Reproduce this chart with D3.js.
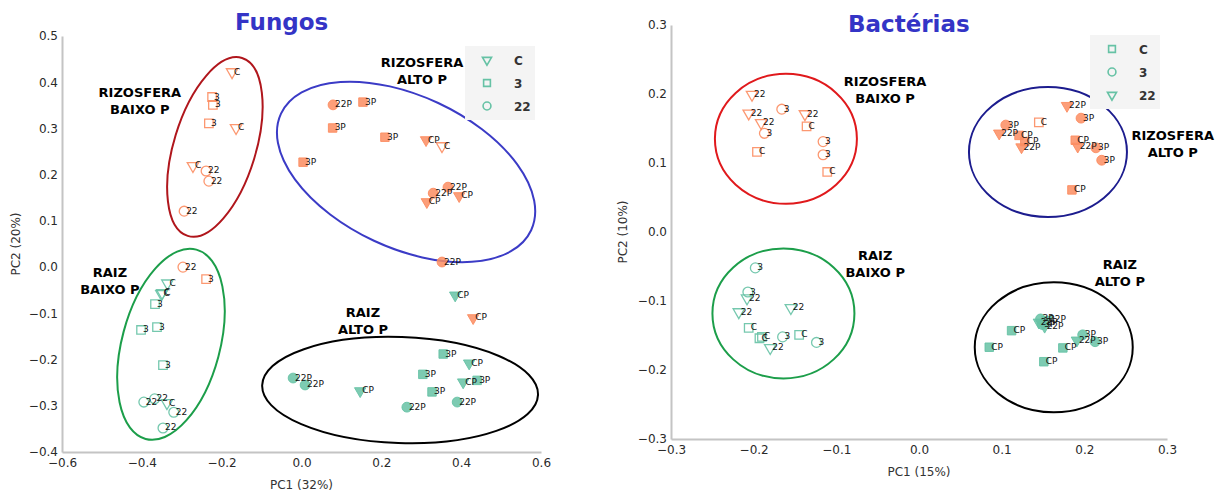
<!DOCTYPE html>
<html>
<head>
<meta charset="utf-8">
<script src="https://cdn.jsdelivr.net/npm/d3@7"></script>
<style>
  body { margin: 0; background: #fff; }
  svg { display: block; font-family: "DejaVu Sans", sans-serif; }
</style>
</head>
<body>
<svg id="chart" width="1223" height="496"></svg>
<script>
// ---- data: [PC1, PC2, label] ----
const fungosRizosfera = [
  [-0.174, 0.422, 'C'], [-0.224, 0.368, '3'], [-0.222, 0.351, '3'], [-0.232, 0.311, '3'],
  [-0.164, 0.301, 'C'], [-0.272, 0.219, 'C'], [-0.239, 0.208, '22'], [-0.232, 0.186, '22'],
  [-0.294, 0.121, '22'], [-0.297, 0.000, '22'], [-0.239, -0.026, '3'],
  [0.079, 0.351, '22P'], [0.154, 0.357, '3P'], [0.078, 0.301, '3P'], [0.209, 0.281, '3P'],
  [0.004, 0.227, '3P'], [0.312, 0.275, 'CP'], [0.352, 0.262, 'C'], [0.367, 0.173, '22P'],
  [0.330, 0.160, '22P'], [0.314, 0.141, 'CP'], [0.395, 0.154, 'CP'], [0.352, 0.011, '22P'],
  [0.430, -0.110, 'CP']
];
const fungosRaiz = [
  [-0.336, -0.035, 'C'], [-0.349, -0.056, 'C'], [-0.351, -0.058, 'C'],
  [-0.367, -0.080, '3'], [-0.402, -0.136, '3'], [-0.362, -0.130, '3'], [-0.347, -0.212, '3'],
  [-0.395, -0.292, '22'], [-0.368, -0.285, '22'], [-0.337, -0.294, 'C'], [-0.320, -0.314, '22'],
  [-0.347, -0.348, '22'],
  [0.385, -0.061, 'CP'], [0.355, -0.188, '3P'], [0.420, -0.208, 'CP'], [0.304, -0.232, '3P'],
  [0.405, -0.249, 'CP'], [0.440, -0.245, '3P'], [0.327, -0.270, '3P'], [0.390, -0.292, '22P'],
  [0.264, -0.303, '22P'], [-0.021, -0.240, '22P'], [0.009, -0.255, '22P'], [0.147, -0.268, 'CP']
];
const bacteriasRizosfera = [
  [-0.202, 0.199, '22'], [-0.206, 0.172, '22'], [-0.191, 0.158, '22'], [-0.187, 0.143, '3'],
  [-0.166, 0.178, '3'], [-0.138, 0.171, '22'], [-0.136, 0.153, 'C'], [-0.196, 0.116, 'C'],
  [-0.116, 0.131, '3'], [-0.116, 0.112, '3'], [-0.111, 0.087, 'C'],
  [0.179, 0.183, '22P'], [0.196, 0.165, '3P'], [0.145, 0.159, 'C'], [0.105, 0.155, '3P'],
  [0.097, 0.143, '22P'], [0.121, 0.140, 'CP'], [0.128, 0.131, 'CP'], [0.124, 0.123, '22P'],
  [0.189, 0.133, 'CP'], [0.192, 0.124, '22P'], [0.214, 0.122, '3P'], [0.221, 0.104, '3P'],
  [0.185, 0.061, 'CP']
];
const bacteriasRaiz = [
  [-0.198, -0.052, '3'], [-0.207, -0.087, '3'], [-0.208, -0.096, '22'], [-0.218, -0.116, '22'],
  [-0.155, -0.110, '22'], [-0.206, -0.139, 'C'], [-0.193, -0.154, 'C'], [-0.190, -0.152, 'C'],
  [-0.165, -0.152, '3'], [-0.145, -0.149, 'C'], [-0.180, -0.168, '22'], [-0.124, -0.160, '3'],
  [0.112, -0.143, 'CP'], [0.085, -0.167, 'CP'], [0.147, -0.126, '3P'], [0.155, -0.127, '22P'],
  [0.149, -0.134, '3P'], [0.152, -0.137, '22P'], [0.145, -0.131, '22P'], [0.174, -0.168, 'CP'],
  [0.191, -0.157, '22P'], [0.198, -0.149, '3P'], [0.213, -0.159, '3P'], [0.151, -0.188, 'CP']
];

const fungosXTicks = [-0.6, -0.4, -0.2, 0.0, 0.2, 0.4, 0.6];
const fungosYTicks = [-0.4, -0.3, -0.2, -0.1, 0.0, 0.1, 0.2, 0.3, 0.4, 0.5];
const bacteriasXTicks = [-0.3, -0.2, -0.1, 0.0, 0.1, 0.2, 0.3];
const bacteriasYTicks = [-0.3, -0.2, -0.1, 0.0, 0.1, 0.2, 0.3];

const legendLabels = ['C', '3', '22'];
const fungosShapes = { 'C': 'tri', '3': 'sq', '22': 'circ' };
const bacteriasShapes = { 'C': 'sq', '3': 'circ', '22': 'tri' };

// group annotations: ellipse centre in data units, radii in px
const fungosEllipses = [
  { cx: -0.217, cy: 0.260, rx: 41, ry: 93, rot: 17, color: '#b0161c' },
  { cx: 0.262, cy: 0.206, rx: 138, ry: 76, rot: 25, color: '#3b3bc6' },
  { cx: -0.327, cy: -0.167, rx: 49, ry: 98, rot: 15, color: '#1c9e4a' },
  { cx: 0.247, cy: -0.266, rx: 138, ry: 53, rot: 2, color: '#000' }
];
const bacteriasEllipses = [
  { cx: -0.161, cy: 0.135, rx: 71, ry: 65, rot: 0, color: '#e0191c' },
  { cx: 0.156, cy: 0.116, rx: 79, ry: 65, rot: 0, color: '#1c1c8e' },
  { cx: -0.164, cy: -0.118, rx: 71, ry: 65, rot: 0, color: '#1c9e4a' },
  { cx: 0.163, cy: -0.167, rx: 79, ry: 65, rot: 0, color: '#000' }
];
const fungosGroupLabels = [
  { x: -0.405, y: 0.369, lines: ['RIZOSFERA', 'BAIXO P'] },
  { x: 0.302, y: 0.434, lines: ['RIZOSFERA', 'ALTO P'] },
  { x: -0.480, y: -0.021, lines: ['RAIZ', 'BAIXO P'] },
  { x: 0.154, y: -0.107, lines: ['RAIZ', 'ALTO P'] }
];
const bacteriasGroupLabels = [
  { x: -0.041, y: 0.212, lines: ['RIZOSFERA', 'BAIXO P'] },
  { x: 0.307, y: 0.134, lines: ['RIZOSFERA', 'ALTO P'] },
  { x: -0.053, y: -0.040, lines: ['RAIZ', 'BAIXO P'] },
  { x: 0.243, y: -0.054, lines: ['RAIZ', 'ALTO P'] }
];

const orange = '#fc8d62';
const green = '#66c2a5';

const svg = d3.select('#chart');

const symbols = {
  tri: d3.symbol().type(d3.symbolTriangle).size(56),
  sq: d3.symbol().type(d3.symbolSquare).size(72),
  circ: d3.symbol().type(d3.symbolCircle).size(76)
};

function drawPanel(p) {
  const x = d3.scaleLinear().domain(p.xDomain).range(p.xRange);
  const y = d3.scaleLinear().domain(p.yDomain).range(p.yRange);
  const g = svg.append('g');
  const fmt = d3.format('.1f');

  // axes (left + bottom spines only)
  const ax = g.append('g').attr('transform', `translate(0,${p.yRange[0]})`)
    .call(d3.axisBottom(x).tickValues(p.xTicks).tickSize(0).tickPadding(6).tickFormat(fmt));
  const ay = g.append('g').attr('transform', `translate(${p.xRange[0]},0)`)
    .call(d3.axisLeft(y).tickValues(p.yTicks).tickSize(0).tickPadding(4).tickFormat(fmt));
  [ax, ay].forEach(a => {
    a.select('.domain').attr('stroke', '#c4c4c4').attr('stroke-width', 2);
    a.selectAll('text').attr('fill', '#2a2a2a').style('font-size', '12px')
      .style('font-family', '"DejaVu Sans", sans-serif');
  });

  g.append('text').attr('x', d3.mean(p.xRange)).attr('y', p.xLabelY)
    .attr('text-anchor', 'middle').attr('fill', '#333').style('font-size', '12px')
    .text(p.xLabel);
  g.append('text').attr('transform', `translate(${p.yLabelX},${d3.mean(p.yRange)}) rotate(-90)`)
    .attr('text-anchor', 'middle').attr('fill', '#333').style('font-size', '12px')
    .text(p.yLabel);

  // title
  g.append('text').attr('x', p.titleX).attr('y', p.titleY)
    .attr('fill', '#3434c6').style('font-size', '23px').style('font-weight', 'bold')
    .text(p.title);

  // ellipses
  g.selectAll('ellipse').data(p.ellipses).join('ellipse')
    .attr('transform', d => `translate(${x(d.cx)},${y(d.cy)}) rotate(${d.rot})`)
    .attr('rx', d => d.rx).attr('ry', d => d.ry)
    .attr('fill', 'none').attr('stroke', d => d.color).attr('stroke-width', 2);

  // points
  const pts = p.rizosfera.map(d => ({ d, color: orange }))
    .concat(p.raiz.map(d => ({ d, color: green })));
  pts.forEach(({ d, color }) => {
    const [px, py, label] = d;
    const base = label.replace('P', '');
    const shape = p.shapes[base];
    const filled = label.endsWith('P');
    const cx = x(px), cy = y(py);
    g.append('path')
      .attr('d', symbols[shape]())
      .attr('transform', `translate(${cx},${cy})` + (shape === 'tri' ? ' rotate(180)' : ''))
      .attr('fill', filled ? color : 'none')
      .attr('fill-opacity', 0.85)
      .attr('stroke', color).attr('stroke-width', filled ? 1 : 1.3)
      .attr('stroke-opacity', 0.9);
  });
  pts.forEach(({ d }) => {
    const [px, py, label] = d;
    g.append('text').attr('x', x(px) + 2).attr('y', y(py) + 2.5)
      .attr('fill', '#111').style('font-size', '9px').text(label);
  });

  // group labels
  p.groupLabels.forEach(gl => {
    const t = g.append('text').attr('text-anchor', 'middle')
      .style('font-size', '13px').style('font-weight', 'bold').attr('fill', '#000');
    gl.lines.forEach((line, i) => {
      t.append('tspan').attr('x', x(gl.x)).attr('y', y(gl.y) + i * 17).text(line);
    });
  });

  // legend
  const lg = g.append('g');
  lg.append('rect').attr('x', p.legend.x).attr('y', p.legend.y)
    .attr('width', 70).attr('height', 74).attr('fill', '#f4f4f4');
  legendLabels.forEach((lab, i) => {
    const shape = p.shapes[lab];
    const ly = p.legend.y + 14 + i * 23;
    lg.append('path').attr('d', symbols[shape]())
      .attr('transform', `translate(${p.legend.x + 22},${ly}) scale(0.8)` + (shape === 'tri' ? ' rotate(180)' : ''))
      .attr('fill', 'none').attr('stroke', green).attr('stroke-width', 2);
    lg.append('text').attr('x', p.legend.x + 49).attr('y', ly + 4.5)
      .attr('fill', '#333').style('font-size', '12px').style('font-weight', 'bold').text(lab);
  });
}

drawPanel({
  title: 'Fungos', titleX: 235, titleY: 30,
  xDomain: [-0.6, 0.6], xRange: [62, 541], yDomain: [-0.4, 0.5], yRange: [452, 36],
  xTicks: fungosXTicks, yTicks: fungosYTicks,
  xLabel: 'PC1 (32%)', xLabelY: 489, yLabel: 'PC2 (20%)', yLabelX: 20,
  rizosfera: fungosRizosfera, raiz: fungosRaiz, shapes: fungosShapes,
  ellipses: fungosEllipses, groupLabels: fungosGroupLabels,
  legend: { x: 465, y: 46 }
});

drawPanel({
  title: 'Bactérias', titleX: 848, titleY: 32,
  xDomain: [-0.3, 0.3], xRange: [671, 1167], yDomain: [-0.3, 0.3], yRange: [439, 25],
  xTicks: bacteriasXTicks, yTicks: bacteriasYTicks,
  xLabel: 'PC1 (15%)', xLabelY: 476, yLabel: 'PC2 (10%)', yLabelX: 627,
  rizosfera: bacteriasRizosfera, raiz: bacteriasRaiz, shapes: bacteriasShapes,
  ellipses: bacteriasEllipses, groupLabels: bacteriasGroupLabels,
  legend: { x: 1090, y: 35 }
});
</script>
</body>
</html>
